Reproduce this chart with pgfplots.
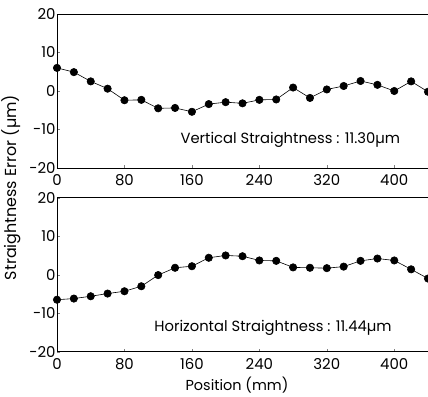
\documentclass[border=0pt]{standalone}
\usepackage{fontspec}
\setmainfont{Poppins}
\usepackage{pgfplots}
\pgfplotsset{compat=1.18}
\pgfplotsset{
  straight/.style={
    scale only axis, width=371bp, height=154bp,
    xmin=0, xmax=440, ymin=-20, ymax=20,
    xtick={0,80,...,400}, ytick={-20,-10,...,20},
    tick pos=left, tick align=inside,
    major tick length=3bp,
    axis line style={line width=0.9pt},
    /pgf/number format/assume math mode=true,
    tick label style={font=\fontsize{15}{17}\selectfont},
    xticklabel style={yshift=-3bp},
    yticklabel style={xshift=2bp},
    clip=false,
  },
  ser/.style={black, line width=0.6pt, mark=*, mark size=3.7bp, mark options={solid, fill=black}},
}
\begin{document}
\begin{tikzpicture}
\begin{axis}[straight, at={(57bp,229bp)}, anchor=south west]
\addplot[ser] coordinates {
(0,6.0) (20,4.9) (40,2.5) (60,0.6) (80,-2.4) (100,-2.3) (120,-4.5) (140,-4.4)
(160,-5.4) (180,-3.4) (200,-2.9) (220,-3.2) (240,-2.3) (260,-2.2) (280,0.9)
(300,-1.8) (320,0.4) (340,1.3) (360,2.6) (380,1.6) (400,0.0) (420,2.5) (440,-0.2)
};
\node[anchor=east, font=\fontsize{14.8}{16}\selectfont] at (axis cs:411,-12.8) {Vertical Straightness : 11.30µm};
\end{axis}
\begin{axis}[straight, at={(57bp,45.3bp)}, anchor=south west]
\addplot[ser] coordinates {
(0,-6.5) (20,-6.2) (40,-5.6) (60,-4.9) (80,-4.3) (100,-3.0) (120,-0.1) (140,1.8)
(160,2.2) (180,4.4) (200,5.0) (220,4.8) (240,3.7) (260,3.6) (280,1.9)
(300,1.8) (320,1.7) (340,2.1) (360,3.6) (380,4.2) (400,3.7) (420,1.4) (440,-1.0)
};
\node[anchor=east, font=\fontsize{14.8}{16}\selectfont] at (axis cs:401,-13.7) {Horizontal Straightness : 11.44µm};
\end{axis}
\node[rotate=90, font=\fontsize{16}{18}\selectfont] at (11bp,209.5bp) {Straightness Error (µm)};
\node[font=\fontsize{14.5}{16}\selectfont] at (237bp,12bp) {Position (mm)};
\pgfresetboundingbox
\useasboundingbox (0,0) rectangle (428bp,397bp);
\end{tikzpicture}
\end{document}
